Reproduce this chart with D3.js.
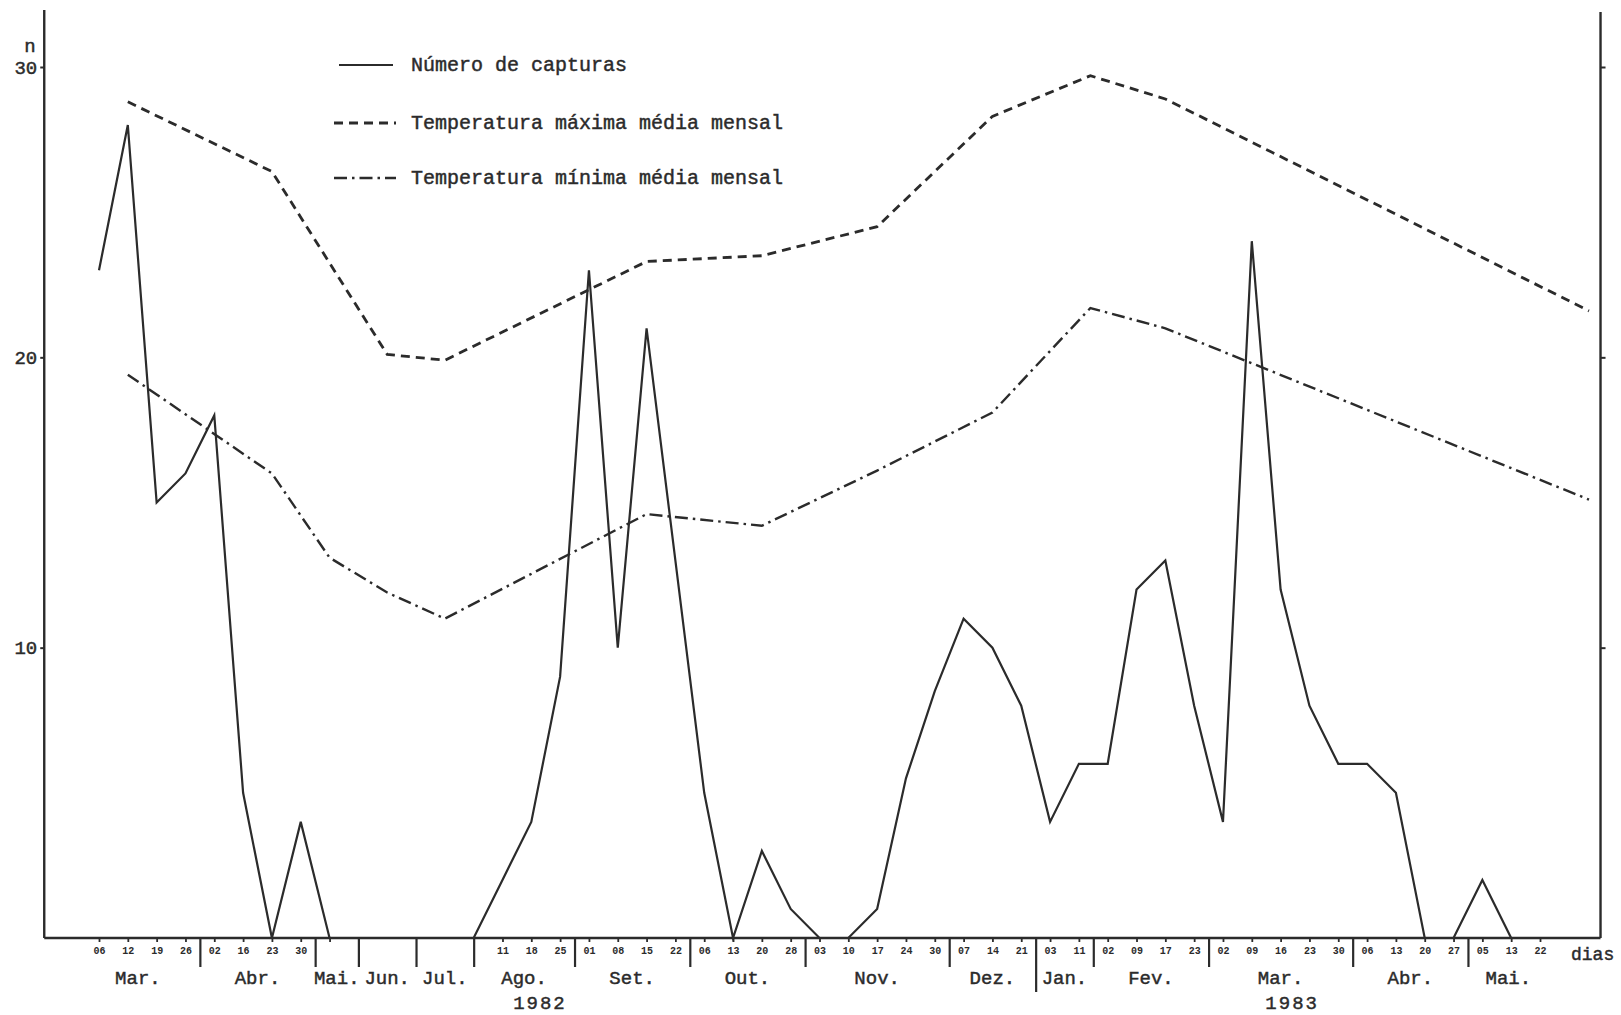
<!DOCTYPE html>
<html><head><meta charset="utf-8">
<script src="https://cdn.jsdelivr.net/npm/d3@7"></script>
<style>html,body{margin:0;background:#fff}svg{display:block}</style>
</head><body>
<svg id="chart" width="1621" height="1015"></svg>
<script>
// Collection dates, one per sampling slot (null = no collection, "" = unlabelled tick)
const sampleDays = ["06","12","19","26","02","16","23","30","",null,null,null,null,null,
  "11","18","25","01","08","15","22","06","13","20","28","03","10","17","24","30",
  "07","14","21","03","11","02","09","17","23","02","09","16","23","30",
  "06","13","20","27","05","13","22"];
// Number of captures per slot
const captures = [23,28,15,16,18,5,0,4,0,null,null,null,null,0,
  2,4,9,23,10,21,13,5,0,3,1,0,0,1,5.5,8.5,
  11,10,8,4,6,6,12,13,8,4,24,12,8,6,
  6,5,0,0,2,0,null];
// Monthly mean temperatures (°C), positioned on the sampling slots
const maxSlots = [1, 6, 10, 12, 19, 23, 27, 31, 34.4, 37, 51.7];
const tempMax  = [28.8, 26.4, 20.1, 19.9, 23.3, 23.5, 24.5, 28.3, 29.7, 28.9, 21.6];
const minSlots = [1, 6, 8, 10, 12, 19, 23, 27, 31, 34.4, 37, 51.7];
const tempMin  = [19.4, 16.0, 13.1, 11.9, 11.0, 14.6, 14.2, 16.1, 18.1, 21.7, 21.0, 15.1];
// Months along the axis and the slot boundaries between them
const monthNames = ["Mar.","Abr.","Mai.","Jun.","Jul.","Ago.","Set.","Out.","Nov.","Dez.","Jan.","Fev.","Mar.","Abr.","Mai."];
const monthEdges = [-0.8, 3.5, 7.5, 9, 11, 13, 16.5, 20.5, 24.5, 29.5, 32.5, 34.5, 38.5, 43.5, 47.5, 50.3];
const years = ["1982", "1983"];
const yearSpans = [[-1.9, 32.5], [32.5, 50.3]];
const yTicks = [10, 20, 30];
const legendLabels = ["Número de capturas", "Temperatura máxima média mensal", "Temperatura mínima média mensal"];

const ink = "#2b2b2b";
const font = "'Liberation Mono', 'DejaVu Sans Mono', monospace";
const svg = d3.select("#chart");

const x = d3.scaleLinear().domain([0, 50]).range([99, 1540]);
const y = d3.scaleLinear().domain([0, 30]).range([938, 67]);
const xLeft = x(-1.9), xRight = x(52.1);

function typed(sel, size) {
  return sel.attr("font-family", font).attr("font-size", size).attr("fill", ink)
    .attr("stroke", ink).attr("stroke-width", 0.45).attr("paint-order", "stroke");
}

// frame: axes and baseline
svg.append("line").attr("x1", xLeft).attr("x2", xLeft).attr("y1", 10).attr("y2", y(0))
  .attr("stroke", ink).attr("stroke-width", 2.4);
svg.append("line").attr("x1", xRight).attr("x2", xRight).attr("y1", 12).attr("y2", y(0))
  .attr("stroke", ink).attr("stroke-width", 2.4);
svg.append("line").attr("x1", xLeft).attr("x2", xRight).attr("y1", y(0)).attr("y2", y(0))
  .attr("stroke", ink).attr("stroke-width", 2.4);

// left value axis
const gl = svg.append("g").attr("transform", `translate(${xLeft},0)`)
  .call(d3.axisLeft(y).tickValues(yTicks).tickSize(4).tickPadding(3));
gl.select(".domain").remove();
gl.selectAll("line").attr("stroke", ink).attr("stroke-width", 2);
typed(gl.selectAll("text"), 19);
typed(svg.append("text").attr("x", 30).attr("y", 52).attr("text-anchor", "middle"), 19).text("n");

// right axis (ticks only)
const gr = svg.append("g").attr("transform", `translate(${xRight},0)`)
  .call(d3.axisRight(y).tickValues(yTicks).tickSize(5).tickFormat(""));
gr.select(".domain").remove();
gr.selectAll("line").attr("stroke", ink).attr("stroke-width", 2);

// sampling-date ticks
const slotIdx = d3.range(sampleDays.length).filter(i => sampleDays[i] !== null);
const gb = svg.append("g").attr("transform", `translate(0,${y(0)})`)
  .call(d3.axisBottom(x).tickValues(slotIdx).tickSize(4).tickPadding(5)
    .tickFormat(i => sampleDays[i]));
gb.select(".domain").remove();
gb.selectAll("line").attr("stroke", ink).attr("stroke-width", 1.8);
gb.selectAll("text").attr("font-family", font).attr("font-size", 10).attr("font-weight", "bold").attr("fill", ink);

// month separators (the year change is longer)
const inner = monthEdges.slice(1, -1);
const gm = svg.append("g").attr("transform", `translate(0,${y(0)})`)
  .call(d3.axisBottom(x).tickValues(inner).tickSize(29).tickFormat(""));
gm.select(".domain").remove();
gm.selectAll("line").attr("stroke", ink).attr("stroke-width", 2.2)
  .attr("y2", d => d === yearSpans[1][0] ? 54 : 29);

// month names and years
typed(svg.append("g").selectAll("text").data(monthNames).join("text")
  .attr("x", (d, i) => x((monthEdges[i] + monthEdges[i + 1]) / 2))
  .attr("y", 984).attr("text-anchor", "middle"), 19).text(d => d);
typed(svg.append("g").selectAll("text").data(years).join("text")
  .attr("x", (d, i) => x((yearSpans[i][0] + yearSpans[i][1]) / 2))
  .attr("y", 1009).attr("text-anchor", "middle"), 19).attr("letter-spacing", 2).text(d => d);
typed(svg.append("text").attr("x", 1571).attr("y", 960), 18).text("dias");

// series
const line = d3.line().x(d => x(d[0])).y(d => y(d[1]));
const capPts = captures.map((v, i) => [i, v]).filter(d => d[1] !== null);
const maxPts = maxSlots.map((s, i) => [s, tempMax[i]]);
const minPts = minSlots.map((s, i) => [s, tempMin[i]]);
const styles = [
  { dash: null, w: 2.2 },
  { dash: "9,6", w: 2.8 },
  { dash: "13,5,2.5,5", w: 2.4 }
];
[capPts, maxPts, minPts].forEach((pts, k) => {
  svg.append("path").datum(pts).attr("d", line).attr("fill", "none")
    .attr("stroke", ink).attr("stroke-width", styles[k].w)
    .attr("stroke-linejoin", "miter").attr("stroke-dasharray", styles[k].dash);
});

// legend
const legY = [65, 123, 178];
const lg = svg.append("g");
legendLabels.forEach((t, k) => {
  lg.append("line").attr("x1", k === 0 ? 339 : 334).attr("x2", k === 0 ? 393 : 396)
    .attr("y1", legY[k]).attr("y2", legY[k])
    .attr("stroke", ink).attr("stroke-width", styles[k].w).attr("stroke-dasharray", styles[k].dash);
  typed(lg.append("text").attr("x", 411).attr("y", legY[k] + 6), 20).text(t);
});
</script>
</body></html>
